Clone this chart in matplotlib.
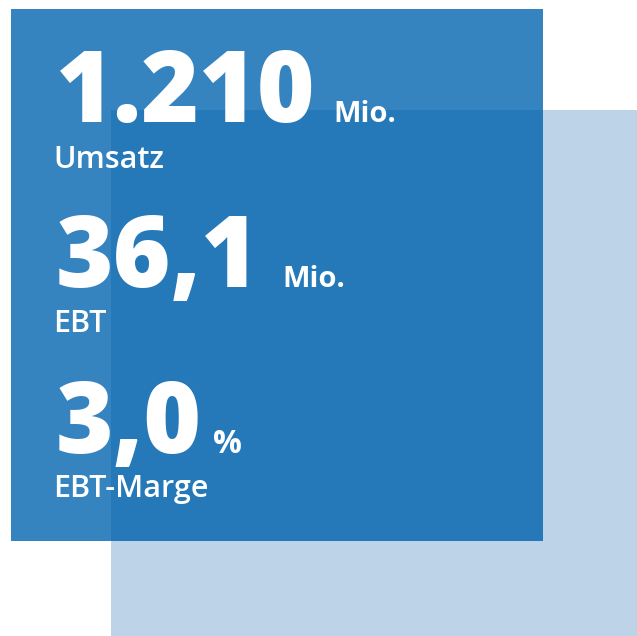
import matplotlib
matplotlib.use("Agg")
import matplotlib.pyplot as plt
from matplotlib.patches import Rectangle

# Data
values = ["1.210", "36,1", "3,0"]
units = ["Mio.", "Mio.", "%"]
labels = ["Umsatz", "EBT", "EBT-Marge"]

# Layout (pixels, origin top-left)
W, H = 637, 636
value_x = 56
value_baselines = [122, 287, 453]
unit_x = [333, 282, 213]
unit_sizes = [21, 21, 23]
label_baselines = [168, 332, 497]

dark = "#3584BF"
overlap = "#2679B8"
light = "#BDD3E7"

fig = plt.figure(figsize=(W / 100, H / 100), dpi=100)
ax = fig.add_axes([0, 0, 1, 1])
ax.set_xlim(0, W)
ax.set_ylim(H, 0)
ax.axis("off")

# squares
ax.add_patch(Rectangle((111, 110), 526, 526, facecolor=light, edgecolor="none"))
ax.add_patch(Rectangle((11, 9), 532, 532, facecolor=dark, edgecolor="none"))
ax.add_patch(Rectangle((111, 110), 432, 431, facecolor=overlap, edgecolor="none"))

fam = ["Open Sans", "DejaVu Sans"]
for v, u, l, vb, ux, us, lb in zip(values, units, labels, value_baselines, unit_x,
                                   unit_sizes, label_baselines):
    ax.text(value_x, vb, v, color="white", fontsize=71, fontweight="heavy",
            family=fam, va="baseline", ha="left")
    ax.text(ux, vb, u, color="white", fontsize=us, fontweight="bold",
            family=fam, va="baseline", ha="left")
    ax.text(53, lb, l, color="white", fontsize=22, fontweight="semibold",
            family=fam, va="baseline", ha="left")

fig.savefig("out.png", dpi=100)
